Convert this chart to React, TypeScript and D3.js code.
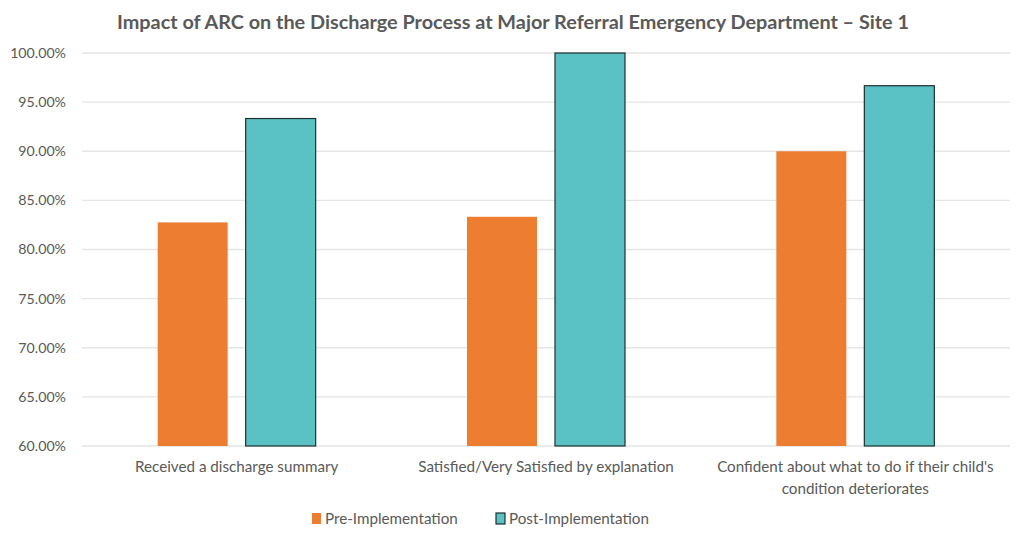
import React from "react";
import * as d3 from "d3";

const categories: string[][] = [
  ["Received a discharge summary"],
  ["Satisfied/Very Satisfied by explanation"],
  ["Confident about what to do if their child's", "condition deteriorates"],
];
const seriesNames = ["Pre-Implementation", "Post-Implementation"];
const preValues = [0.8276, 0.8333, 0.9];
const postValues = [0.9333, 1.0, 0.9667];
const yTicks = [0.6, 0.65, 0.7, 0.75, 0.8, 0.85, 0.9, 0.95, 1.0];
const title = "Impact of ARC on the Discharge Process at Major Referral Emergency Department \u2013 Site 1";

const W = 1024;
const H = 540;
const left = 82;
const right = 1010;
const top = 53;
const bottom = 446;
const colors = ["#ED7D31", "#5AC1C4"];
const font = "Lato, 'Open Sans', sans-serif";
const textColor = "#595959";

export default function App() {
  const y = d3.scaleLinear().domain([0.6, 1.0]).range([bottom, top]);
  const x0 = d3
    .scaleBand<number>()
    .domain(categories.map((_, i) => i))
    .range([left, right])
    .padding(0);
  const x1 = d3
    .scaleBand<number>()
    .domain([0, 1])
    .range([0, x0.bandwidth()])
    .paddingInner(0.2045)
    .paddingOuter(0.86);
  const fmt = d3.format(".2%");
  const series = [preValues, postValues];

  return (
    <svg
      width={W}
      height={H}
      style={{ position: "absolute", left: 0, top: 0, background: "#fff" }}
      fontFamily={font}
    >
      <text
        x={513}
        y={29}
        textAnchor="middle"
        fontSize={19.5}
        fontWeight="bold"
        fill={textColor}
        textLength={792}
        lengthAdjust="spacingAndGlyphs"
      >
        {title}
      </text>
      {yTicks.map((t) => (
        <g key={t}>
          <line x1={left} x2={right} y1={y(t)} y2={y(t)} stroke="#E5E5E5" strokeWidth={1.3} />
          <text x={66} y={y(t)} dy="0.35em" textAnchor="end" fontSize={14.2} fill={textColor}>
            {fmt(t)}
          </text>
        </g>
      ))}
      {categories.map((c, i) => (
        <g key={i}>
          {series.map((vals, s) => (
            <rect
              key={s}
              x={(x0(i) as number) + (x1(s) as number)}
              y={y(vals[i])}
              width={x1.bandwidth()}
              height={bottom - y(vals[i])}
              fill={colors[s]}
              stroke={s === 1 ? "#1F2F2F" : "none"}
              strokeWidth={1.2}
            />
          ))}
          {c.map((line, k) => (
            <text
              key={k}
              x={(x0(i) as number) + x0.bandwidth() / 2}
              y={472 + k * 22}
              textAnchor="middle"
              fontSize={15.2}
              fill={textColor}
            >
              {line}
            </text>
          ))}
        </g>
      ))}
      {seriesNames.map((n, s) => {
        const lx = s === 0 ? 312 : 496;
        return (
          <g key={n}>
            <rect
              x={lx}
              y={513}
              width={9}
              height={11}
              fill={colors[s]}
              stroke={s === 1 ? "#1F2F2F" : "none"}
              strokeWidth={1.2}
            />
            <text x={lx + 13} y={524} fontSize={15.2} fill={textColor}>
              {n}
            </text>
          </g>
        );
      })}
    </svg>
  );
}
